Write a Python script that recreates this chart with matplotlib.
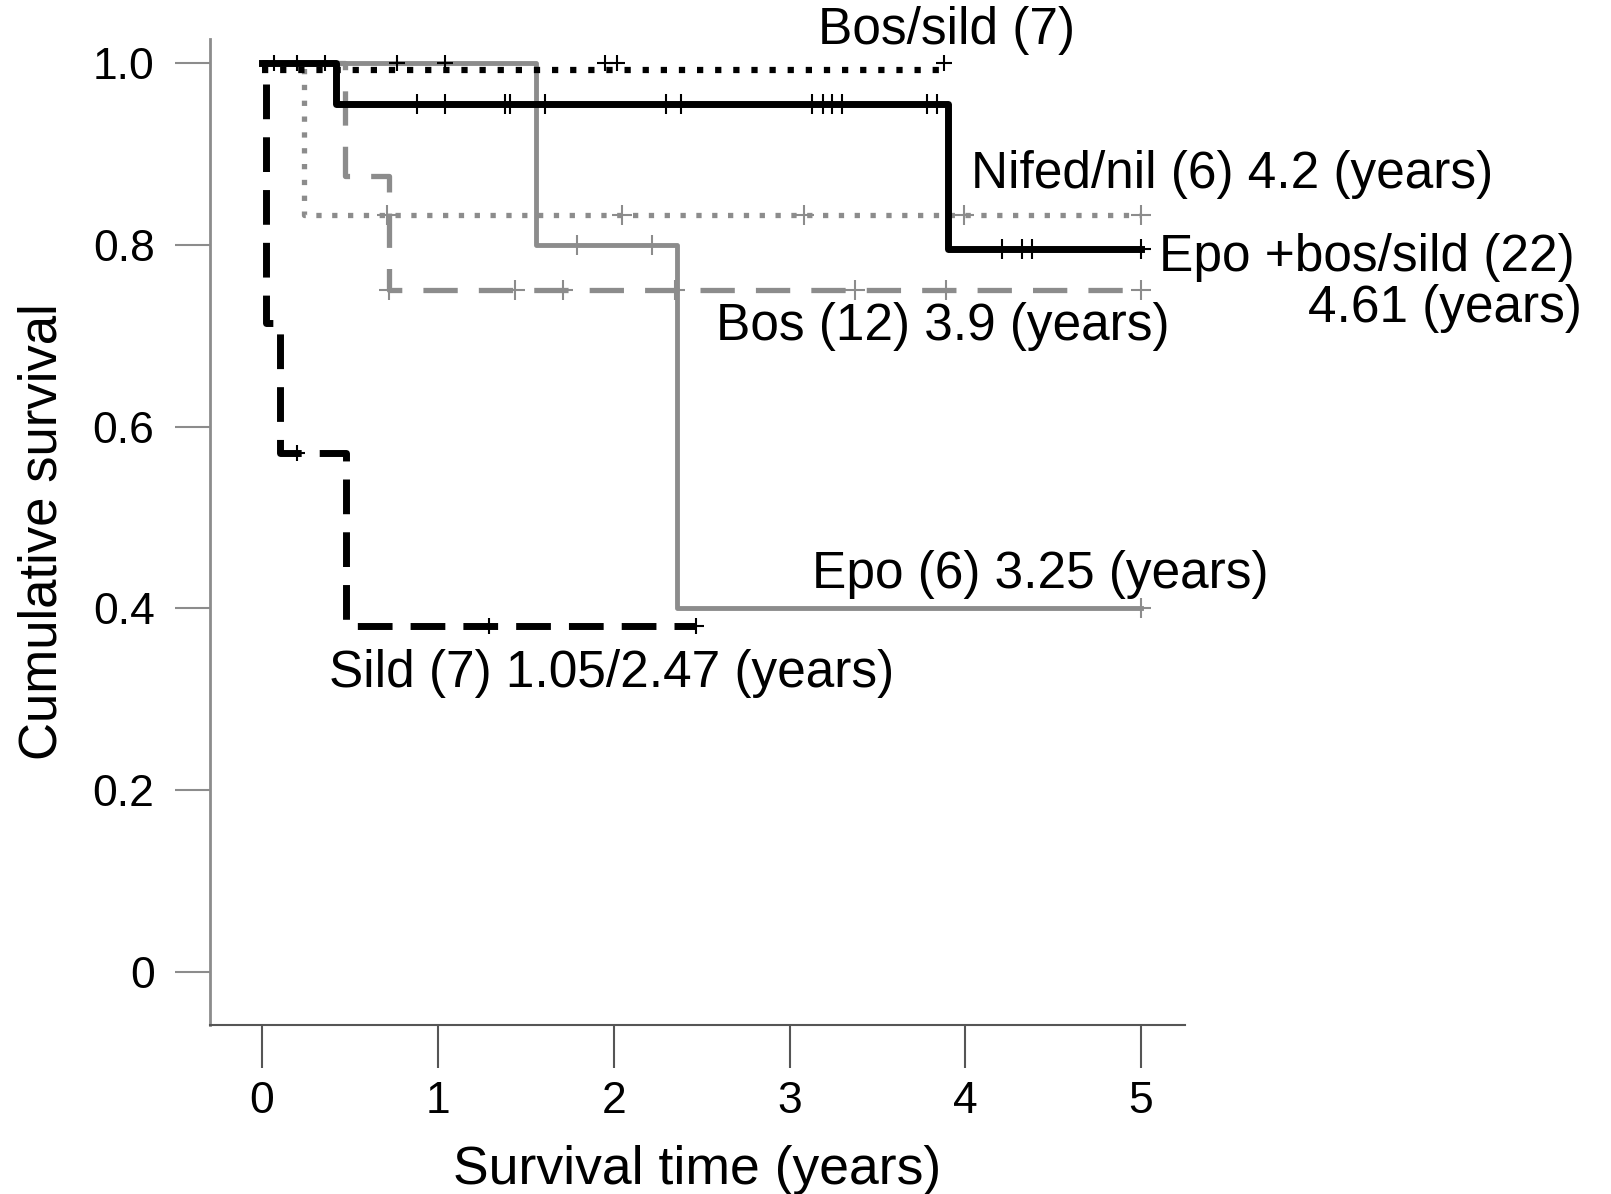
import matplotlib
matplotlib.use('Agg')
import matplotlib.pyplot as plt

plt.rcParams['font.family'] = ['Liberation Sans', 'DejaVu Sans']

# step curves (time, survival), censor times
bossild_t = [0.0, 3.88]
bossild_s = [0.992, 0.992]
bossild_cens = [0.07, 0.2, 0.36, 0.77, 1.04, 1.95, 2.02, 3.88]

epobs_t = [0.0, 0.42, 3.9, 5.0]
epobs_s = [1.0, 0.955, 0.795, 0.795]
epobs_cens = [0.88, 1.04, 1.38, 1.41, 1.61, 2.30, 2.38, 3.13, 3.19, 3.24,
              3.30, 3.78, 3.84, 4.21, 4.32, 4.38, 5.0]

nifed_t = [0.0, 0.24, 5.0]
nifed_s = [1.0, 0.833, 0.833]
nifed_cens = [0.71, 2.05, 3.08, 3.99, 5.0]

bos_t = [0.0, 0.47, 0.72, 5.0]
bos_s = [1.0, 0.875, 0.75, 0.75]
bos_cens = [0.72, 1.44, 1.71, 2.35, 3.37, 3.89, 5.0]

epo_t = [0.0, 1.56, 2.36, 5.0]
epo_s = [1.0, 0.80, 0.40, 0.40]
epo_cens = [1.79, 2.22, 5.0]

sild_t = [0.0, 0.02, 0.10, 0.48, 2.47]
sild_s = [1.0, 0.714, 0.571, 0.381, 0.381]
sild_cens = [0.2, 1.29, 2.47]

xticks = [0, 1, 2, 3, 4, 5]
yticks = [0, 0.2, 0.4, 0.6, 0.8, 1.0]
ytick_labels = ['0', '0.2', '0.4', '0.6', '0.8', '1.0']

fig = plt.figure(figsize=(16.11, 11.94), dpi=100)
ax = fig.add_axes([0.1304, 0.1415, 0.6052, 0.8258])

gray = '#8c8c8c'

def censor_y(t, s, c):
    out = []
    for ci in c:
        v = s[0]
        for ti, si in zip(t, s):
            if ti <= ci:
                v = si
        out.append(v)
    return out

# gray curves first
ax.step(epo_t, epo_s, where='post', color=gray, lw=3.5)
ax.plot(epo_cens, censor_y(epo_t, epo_s, epo_cens), '+', color=gray, ms=14, mew=1.5)

ax.step(nifed_t, nifed_s, where='post', color=gray, lw=3.8, dashes=(1, 2.0))
ax.plot(nifed_cens, censor_y(nifed_t, nifed_s, nifed_cens), '+', color=gray, ms=14, mew=1.5)

ax.step(bos_t, bos_s, where='post', color=gray, lw=3.8, dashes=(6.5, 4))
ax.plot(bos_cens, censor_y(bos_t, bos_s, bos_cens), '+', color=gray, ms=14, mew=1.5)

# black curves
ax.step(sild_t, sild_s, where='post', color='black', lw=5, linestyle=(4.0, (5, 2.6)))
ax.plot(sild_cens, censor_y(sild_t, sild_s, sild_cens), '+', color='black', ms=12, mew=1.5)

ax.step(bossild_t, bossild_s, where='post', color='black', lw=4.5, dashes=(1, 1.9))
ax.plot(bossild_cens, [1.0] * len(bossild_cens), '+', color='black', ms=12, mew=1.5)

ax.step(epobs_t, epobs_s, where='post', color='black', lw=5)
ax.plot(epobs_cens, censor_y(epobs_t, epobs_s, epobs_cens), '+', color='black', ms=14, mew=1.5)

ax.set_xlim(-0.296, 5.25)
ax.set_ylim(-0.058, 1.026)
ax.set_xticks(xticks)
ax.set_yticks(yticks)
ax.set_yticklabels(ytick_labels)
ax.tick_params(axis='y', length=25, width=1.5, color=gray, pad=15, labelsize=32)
ax.tick_params(axis='x', length=31, width=1.5, color='#555555', pad=9, labelsize=32)

for s in ['top', 'right']:
    ax.spines[s].set_visible(False)
ax.spines['left'].set_color(gray)
ax.spines['left'].set_linewidth(2)
ax.spines['bottom'].set_color('#555555')
ax.spines['bottom'].set_linewidth(1.5)

ax.set_xlabel('Survival time (years)', fontsize=38.5, labelpad=17)
ax.set_ylabel('Cumulative survival', fontsize=38, labelpad=18)

fs = 37
ax.text(3.16, 1.035, 'Bos/sild (7)', fontsize=fs, va='center')
ax.text(4.03, 0.877, 'Nifed/nil (6) 4.2 (years)', fontsize=fs, va='center')
ax.text(5.10, 0.786, 'Epo +bos/sild (22)', fontsize=fs, va='center')
ax.text(7.51, 0.730, '4.61 (years)', fontsize=fs, va='center', ha='right')
ax.text(2.58, 0.710, 'Bos (12) 3.9 (years)', fontsize=fs, va='center')
ax.text(3.13, 0.437, 'Epo (6) 3.25 (years)', fontsize=fs, va='center')
ax.text(0.38, 0.329, 'Sild (7) 1.05/2.47 (years)', fontsize=fs, va='center')

fig.savefig('out.png', dpi=100)
